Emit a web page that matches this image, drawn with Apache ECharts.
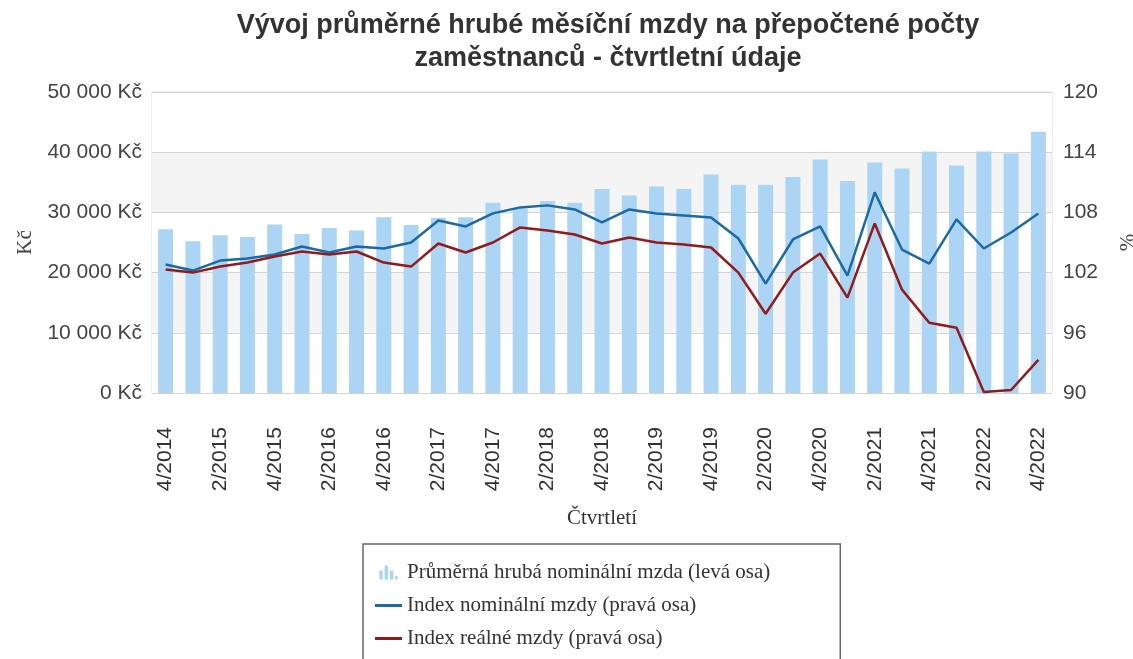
<!DOCTYPE html>
<html>
<head>
<meta charset="utf-8">
<title>Vývoj průměrné hrubé měsíční mzdy</title>
<script src="https://cdn.jsdelivr.net/npm/echarts@6/dist/echarts.min.js"></script>
<style>
  html, body { margin: 0; padding: 0; background: #fff; }
  #chart { width: 1133px; height: 659px; }
</style>
</head>
<body>
<div id="chart"></div>
<script>
// čtvrtletí 4/2014 – 4/2022
const quarters = [
  '4/2014',
  '1/2015', '2/2015', '3/2015', '4/2015',
  '1/2016', '2/2016', '3/2016', '4/2016',
  '1/2017', '2/2017', '3/2017', '4/2017',
  '1/2018', '2/2018', '3/2018', '4/2018',
  '1/2019', '2/2019', '3/2019', '4/2019',
  '1/2020', '2/2020', '3/2020', '4/2020',
  '1/2021', '2/2021', '3/2021', '4/2021',
  '1/2022', '2/2022', '3/2022', '4/2022'
]

// průměrná hrubá nominální mzda (Kč)
const nominalWage = [
  27200,
  25200, 26200, 25900, 28000,
  26400, 27400, 27000, 29200,
  27900, 29100, 29200, 31600,
  30600, 31900, 31600, 33900,
  32800, 34300, 33900, 36300,
  34600, 34600, 35900, 38800,
  35200, 38300, 37300, 40100,
  37800, 40100, 39800, 43400
]

// index nominální mzdy (%)
const nominalIndex = [
  102.8,
  102.2, 103.2, 103.4, 103.8,
  104.6, 104.0, 104.6, 104.4,
  105.0, 107.2, 106.6, 107.9,
  108.5, 108.7, 108.3, 107.0,
  108.3, 107.9, 107.7, 107.5,
  105.4, 100.9, 105.3, 106.6,
  101.7, 110.0, 104.3, 102.9,
  107.3, 104.4, 106.0, 107.9
]

// index reálné mzdy (%)
const realIndex = [
  102.3,
  102.0, 102.6, 103.0, 103.6,
  104.1, 103.8, 104.1, 103.0,
  102.6, 104.9, 104.0, 105.0,
  106.5, 106.2, 105.8, 104.9,
  105.5, 105.0, 104.8, 104.5,
  102.0, 97.9, 102.0, 103.9,
  99.5, 106.9, 100.3, 97.0,
  96.5, 90.1, 90.3, 93.3
]

const seriesNames = [
  'Průměrná hrubá nominální mzda (levá osa)',
  'Index nominální mzdy (pravá osa)',
  'Index reálné mzdy (pravá osa)'
]

const sansFont = '"Liberation Sans", Arial, sans-serif'
const serifFont = '"Liberation Serif", "Times New Roman", serif'

const formatKc = (v) => String(v).replace(/\B(?=(\d{3})+(?!\d))/g, ' ') + ' Kč'

const chart = echarts.init(document.getElementById('chart'))

const lineIcon = 'path://M0,0h27v3h-27z'

const option = {
  backgroundColor: '#ffffff',
  animation: false,
  title: {
    text: 'Vývoj průměrné hrubé měsíční mzdy na přepočtené počty\nzaměstnanců - čtvrtletní údaje',
    left: 603,
    top: 4,
    textAlign: 'center',
    textStyle: {
      fontFamily: sansFont,
      fontWeight: 'bold',
      fontSize: 27,
      lineHeight: 33,
      color: '#333'
    }
  },
  legend: {
    orient: 'vertical',
    left: 363,
    top: 544,
    height: 160,
    padding: [18, 70, 20, 12],
    itemWidth: 27,
    itemHeight: 14,
    itemGap: 12,
    borderColor: '#666',
    borderWidth: 1.5,
    textStyle: {
      fontFamily: serifFont,
      fontSize: 21,
      lineHeight: 20,
      color: '#333'
    },
    data: [
      {
        name: seriesNames[0],
        icon: 'path://M0,6h4v10h-4z M6,0h4v16h-4z M12,6h4v10h-4z M18,12h3v4h-3z'
      },
      { name: seriesNames[1], icon: lineIcon },
      { name: seriesNames[2], icon: lineIcon }
    ]
  },
  grid: {
    left: 152,
    right: 81,
    top: 92,
    bottom: 266,
    outerBoundsMode: 'none',
    show: true,
    borderColor: '#dcdcdc',
    borderWidth: 1,
    backgroundColor: '#ffffff'
  },
  xAxis: {
    type: 'category',
    data: quarters,
    boundaryGap: true,
    name: 'Čtvrtletí',
    nameLocation: 'middle',
    nameGap: 115,
    nameTextStyle: {
      fontFamily: serifFont,
      fontSize: 21,
      color: '#333'
    },
    axisLine: { show: false },
    axisTick: { show: false },
    axisLabel: {
      interval: 1,
      rotate: 90,
      margin: 34,
      fontFamily: sansFont,
      fontSize: 21,
      color: '#333'
    }
  },
  yAxis: [
    {
      type: 'value',
      min: 0,
      max: 50000,
      interval: 10000,
      name: 'Kč',
      nameLocation: 'middle',
      nameGap: 116,
      nameTextStyle: {
        fontFamily: serifFont,
        fontSize: 21,
        color: '#444'
      },
      axisLine: { show: false },
      axisTick: { show: false },
      axisLabel: {
        margin: 10,
        fontFamily: sansFont,
        fontSize: 21,
        color: '#444',
        formatter: formatKc
      },
      splitLine: { lineStyle: { color: '#d4d4d4', width: 1 } },
      splitArea: {
        show: true,
        areaStyle: { color: ['#ffffff', '#f4f4f4'] }
      }
    },
    {
      type: 'value',
      min: 90,
      max: 120,
      interval: 6,
      name: '%',
      nameLocation: 'middle',
      nameGap: 66,
      nameTextStyle: {
        fontFamily: serifFont,
        fontSize: 21,
        color: '#444'
      },
      axisLine: { show: false },
      axisTick: { show: false },
      axisLabel: {
        margin: 11,
        fontFamily: sansFont,
        fontSize: 21,
        color: '#444'
      },
      splitLine: { show: false }
    }
  ],
  series: [
    {
      name: seriesNames[0],
      type: 'bar',
      yAxisIndex: 0,
      data: nominalWage,
      barWidth: 15,
      itemStyle: { color: '#acd4f4' }
    },
    {
      name: seriesNames[1],
      type: 'line',
      yAxisIndex: 1,
      data: nominalIndex,
      symbol: 'none',
      lineStyle: { color: '#1b6aa2', width: 2.5 },
      itemStyle: { color: '#1b6aa2' }
    },
    {
      name: seriesNames[2],
      type: 'line',
      yAxisIndex: 1,
      data: realIndex,
      symbol: 'none',
      lineStyle: { color: '#921a1a', width: 2.5 },
      itemStyle: { color: '#921a1a' }
    }
  ]
}

chart.setOption(option)
window.addEventListener('resize', () => chart.resize())
</script>
</body>
</html>
